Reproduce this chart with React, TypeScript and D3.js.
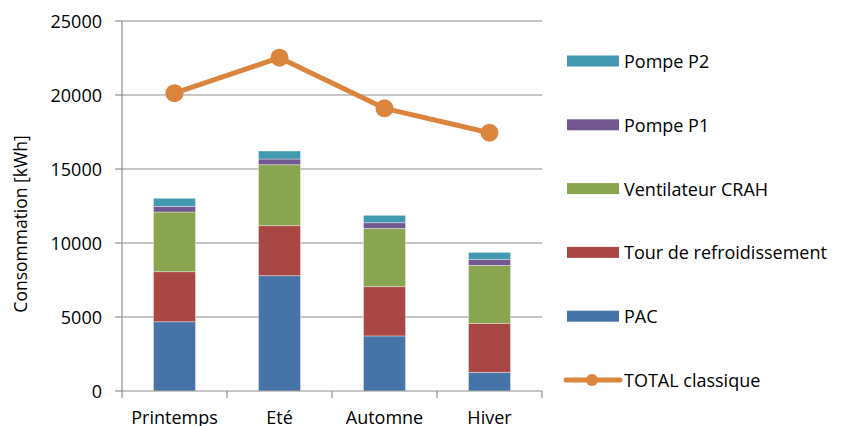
import React from "react";
import * as d3 from "d3";

const categories = ["Printemps", "Eté", "Automne", "Hiver"];
const seriesNames = ["PAC", "Tour de refroidissement", "Ventilateur CRAH", "Pompe P1", "Pompe P2"];
const pac = [4680, 7790, 3720, 1260];
const tour = [3380, 3380, 3330, 3310];
const ventilateur = [4035, 4120, 3940, 3915];
const pompeP1 = [385, 385, 380, 410];
const pompeP2 = [540, 540, 500, 470];
const totalClassique = [20120, 22520, 19100, 17450];
const yTicks = [0, 5000, 10000, 15000, 20000, 25000];
const colors = ["#4674a9", "#a94744", "#8aa54f", "#72588f", "#4399b0"];
const totalColor = "#db843d";

const W = 841, H = 426;
const left = 122, right = 542, top = 21, bottom = 391;
const font = "'Open Sans', sans-serif";

export default function App() {
  const x = d3.scaleBand<string>().domain(categories).range([left, right]).paddingInner(0.6).paddingOuter(0.3);
  const y = d3.scaleLinear().domain([0, 25000]).range([bottom, top]);
  const rows = categories.map((c, i) => ({
    cat: c,
    s0: pac[i], s1: tour[i], s2: ventilateur[i], s3: pompeP1[i], s4: pompeP2[i],
  }));
  const stacked = d3.stack<any>().keys(["s0", "s1", "s2", "s3", "s4"])(rows);
  const line = d3.line<number>().x((_, i) => (x(categories[i]) as number) + x.bandwidth() / 2).y((d) => y(d));
  const step = x.step();
  const boundaries = d3.range(categories.length + 1).map((i) => left + i * step);

  const legendItems = [
    { name: "Pompe P2", color: colors[4] },
    { name: "Pompe P1", color: colors[3] },
    { name: "Ventilateur CRAH", color: colors[2] },
    { name: "Tour de refroidissement", color: colors[1] },
    { name: "PAC", color: colors[0] },
  ];
  const legendY = d3.scaleLinear().domain([0, 5]).range([61, 380]);

  return (
    <svg width={W} height={H} style={{ position: "fixed", left: 0, top: 0, background: "#fff" }} fontFamily={font}>
      {/* gridlines */}
      {yTicks.slice(1).map((t) => (
        <line key={t} x1={left} x2={right} y1={y(t)} y2={y(t)} stroke="#8e8e8e" strokeWidth={1.2} />
      ))}
      {/* bars */}
      {stacked.map((layer, li) => (
        <g key={li} fill={colors[li]}>
          {layer.map((d, i) => (
            <rect key={i} x={x(categories[i])} width={x.bandwidth()} y={y(d[1])} height={y(d[0]) - y(d[1])}
              stroke="rgba(255,255,255,0.45)" strokeWidth={0.8} />
          ))}
        </g>
      ))}
      {/* axes */}
      <line x1={left} x2={left} y1={top} y2={bottom} stroke="#8e8e8e" strokeWidth={1.2} />
      <line x1={left} x2={right} y1={bottom} y2={bottom} stroke="#8e8e8e" strokeWidth={1.2} />
      {yTicks.map((t) => (
        <g key={t}>
          <line x1={left - 7} x2={left} y1={y(t)} y2={y(t)} stroke="#8e8e8e" strokeWidth={1.2} />
          <text x={102} y={y(t)} textAnchor="end" dominantBaseline="central" fontSize={18} fill="#000">{t}</text>
        </g>
      ))}
      {boundaries.map((b, i) => (
        <line key={i} x1={b} x2={b} y1={bottom} y2={bottom + 7} stroke="#8e8e8e" strokeWidth={1.2} />
      ))}
      {categories.map((c) => (
        <text key={c} x={(x(c) as number) + x.bandwidth() / 2} y={424} textAnchor="middle" fontSize={18} fill="#000">{c}</text>
      ))}
      <text transform={`translate(27,224) rotate(-90)`} textAnchor="middle" fontSize={17.5} fill="#000">
        Consommation [kWh]
      </text>
      {/* total line */}
      <path d={line(totalClassique) || ""} fill="none" stroke={totalColor} strokeWidth={5} strokeLinejoin="round" />
      {totalClassique.map((v, i) => (
        <circle key={i} cx={(x(categories[i]) as number) + x.bandwidth() / 2} cy={y(v)} r={9} fill={totalColor} />
      ))}
      {/* legend */}
      {legendItems.map((it, i) => (
        <g key={it.name}>
          <rect x={567} y={legendY(i) - 5.5} width={52} height={11} fill={it.color} />
          <text x={624} y={legendY(i)} dominantBaseline="central" fontSize={18} fill="#000">{it.name}</text>
        </g>
      ))}
      <line x1={566} x2={620} y1={legendY(5)} y2={legendY(5)} stroke={totalColor} strokeWidth={5} strokeLinecap="round" />
      <circle cx={592} cy={legendY(5)} r={6} fill={totalColor} />
      <text x={624} y={legendY(5)} dominantBaseline="central" fontSize={18} fill="#000">TOTAL classique</text>
    </svg>
  );
}
